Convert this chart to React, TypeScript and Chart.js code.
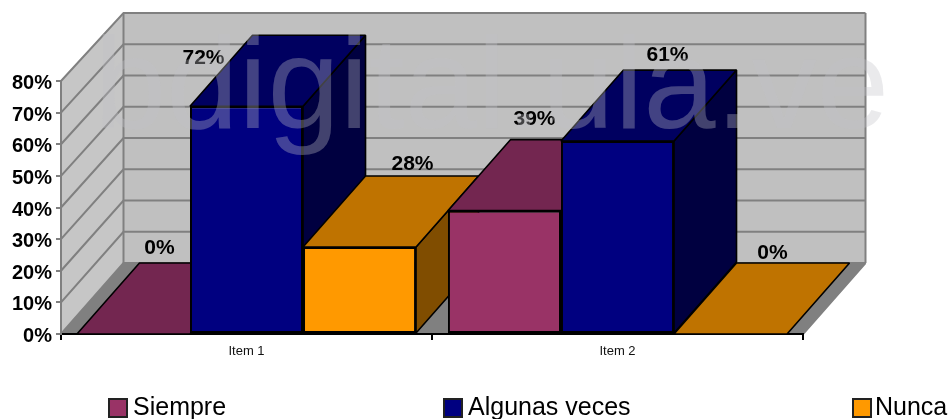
import React, { useEffect, useRef } from "react";
import { Chart, registerables } from "chart.js";

Chart.register(...registerables);

const categories = ["Item 1", "Item 2"];
const siempre = [0, 39];
const algunasVeces = [72, 61];
const nunca = [27.5, 0];
const seriesNames = ["Siempre", "Algunas veces", "Nunca"];
const frontColors = ["#993366", "#000080", "#ff9900"];
const topColors = ["#732650", "#000060", "#bf7300"];
const sideColors = ["#4d1a33", "#000040", "#804d00"];
const watermarkText = "bdigital.ula.ve";

// label nudges relative to the top centre of each bar's front face [series][category]
const labelNudges = [
  [[26, -86], [30, -91]],
  [[-43, -48], [50, -86]],
  [[53, -83], [42, -81]],
];
const legendSlots = [
  { sw: 109, tx: 133 },
  { sw: 444, tx: 468 },
  { sw: 853, tx: 875 },
];

const DX = 62.5;
const DY = 71;
const GRID = "#808080";
const FONT = "'Liberation Sans', Arial, sans-serif";

function poly(ctx: any, pts: number[][], fill: string | null, stroke: string | null, lw = 1.6) {
  ctx.beginPath();
  pts.forEach((p, i) => (i ? ctx.lineTo(p[0], p[1]) : ctx.moveTo(p[0], p[1])));
  ctx.closePath();
  if (fill) {
    ctx.fillStyle = fill;
    ctx.fill();
  }
  if (stroke) {
    ctx.strokeStyle = stroke;
    ctx.lineWidth = lw;
    ctx.lineJoin = "bevel";
    ctx.stroke();
  }
}

const wallsPlugin = {
  id: "walls",
  beforeDraw(chart: any) {
    const { ctx, chartArea: a, scales } = chart;
    // nudge the value-axis labels down to sit where the reference has them
    scales.y.getLabelItems(a).forEach((it: any) => {
      if (!it.options.__moved) {
        it.options.translation = [it.options.translation[0], it.options.translation[1] + 2.5];
        it.options.__moved = true;
      }
    });
    const y0 = a.bottom;
    const backBottom = y0 - DY;
    const backTop = a.top - 68;
    const backY = (y: number) => backBottom - ((y0 - y) * (backBottom - backTop)) / (y0 - a.top);
    const bl = a.left + DX;
    const br = a.right + DX;
    ctx.save();
    poly(ctx, [[a.left, y0], [bl, backBottom], [bl, backTop], [a.left, a.top]], "#c6c6c6", null);
    poly(ctx, [[bl, backBottom], [br, backBottom], [br, backTop], [bl, backTop]], "#c0c0c0", null);
    poly(ctx, [[a.left, y0], [bl, backBottom], [br, backBottom], [a.right, y0]], GRID, null);
    ctx.strokeStyle = GRID;
    ctx.lineWidth = 2;
    scales.y.ticks.forEach((t: any) => {
      const y = scales.y.getPixelForValue(t.value);
      const by = backY(y);
      ctx.beginPath();
      ctx.moveTo(a.left, y);
      ctx.lineTo(bl, by);
      ctx.lineTo(br, by);
      ctx.stroke();
    });
    ctx.beginPath();
    ctx.moveTo(bl, backBottom);
    ctx.lineTo(bl, backTop);
    ctx.moveTo(br, backBottom);
    ctx.lineTo(br, backTop);
    ctx.moveTo(a.right, y0);
    ctx.lineTo(br, backBottom);
    ctx.stroke();
    ctx.restore();
  },
  beforeDatasetsDraw(chart: any) {
    const { ctx } = chart;
    ctx.save();
    categories.forEach((_c, ci) => {
      chart.data.datasets.forEach((_d: any, di: number) => {
        const bar = chart.getDatasetMeta(di).data[ci];
        const l = bar.x - bar.width / 2;
        const r = bar.x + bar.width / 2;
        const t = bar.y;
        const b = bar.base;
        if (b - t > 0.5) {
          poly(ctx, [[r, t], [r + DX, t - DY], [r + DX, b - DY], [r, b]], sideColors[di], "#000");
        }
        poly(ctx, [[l, t], [l + DX, t - DY], [r + DX, t - DY], [r, t]], topColors[di], "#000");
      });
    });
    ctx.restore();
  },
  afterDatasetsDraw(chart: any) {
    const { ctx } = chart;
    ctx.save();
    // value labels
    ctx.fillStyle = "#000";
    ctx.font = `bold 21px ${FONT}`;
    ctx.textAlign = "center";
    ctx.textBaseline = "middle";
    chart.data.datasets.forEach((d: any, di: number) => {
      d.data.forEach((v: number, ci: number) => {
        const bar = chart.getDatasetMeta(di).data[ci];
        const n = labelNudges[di][ci];
        ctx.fillText(`${Math.round(v)}%`, bar.x + n[0], bar.y + n[1]);
      });
    });
    // legend
    ctx.font = `25px ${FONT}`;
    ctx.textAlign = "left";
    ctx.textBaseline = "alphabetic";
    chart.data.datasets.forEach((d: any, di: number) => {
      const s = legendSlots[di];
      ctx.fillStyle = d.backgroundColor;
      ctx.fillRect(s.sw, 399, 18, 18);
      ctx.strokeStyle = "#222";
      ctx.lineWidth = 2;
      ctx.strokeRect(s.sw, 399, 18, 18);
      ctx.fillStyle = "#000";
      ctx.fillText(d.label, s.tx, 415);
    });
    ctx.restore();
  },
  afterDraw(chart: any) {
    const { ctx } = chart;
    ctx.save();
    ctx.fillStyle = "rgba(194,194,200,0.34)";
    ctx.textAlign = "right";
    ctx.textBaseline = "alphabetic";
    ctx.font = `130px ${FONT}`;
    ctx.fillText(watermarkText, 889, 128);
    ctx.restore();
  },
};

export default function App() {
  const ref = useRef<HTMLCanvasElement | null>(null);
  useEffect(() => {
    const chart = new Chart(ref.current as HTMLCanvasElement, {
      type: "bar",
      data: {
        labels: categories,
        datasets: [siempre, algunasVeces, nunca].map((data, i) => ({
          label: seriesNames[i],
          data,
          backgroundColor: frontColors[i],
          borderColor: "#000",
          borderWidth: 2,
          borderSkipped: false,
          categoryPercentage: 0.914,
          barPercentage: 1,
        })),
      },
      options: {
        responsive: false,
        animation: false,
        layout: { padding: { left: 0, right: 145, top: 81, bottom: 0 } },
        plugins: { legend: { display: false }, tooltip: { enabled: false } },
        scales: {
          x: {
            afterFit(s: any) {
              s.height = 85;
            },
            grid: { drawOnChartArea: false, color: "#000", lineWidth: 2, tickLength: 6 },
            border: { color: "#000", width: 2 },
            ticks: { color: "#111", font: { family: FONT, size: 13 }, padding: 4, maxRotation: 0 },
          },
          y: {
            min: 0,
            max: 80,
            afterFit(s: any) {
              s.width = 61;
            },
            grid: { drawOnChartArea: false, color: GRID, lineWidth: 2, tickLength: 5 },
            border: { color: GRID, width: 2 },
            ticks: {
              stepSize: 10,
              color: "#000",
              padding: 4,
              font: { family: FONT, size: 20, weight: "bold" },
              callback: (v: any) => `${v}%`,
            },
          },
        },
      },
      plugins: [wallsPlugin],
    } as any);
    return () => chart.destroy();
  }, []);
  return (
    <div style={{ position: "fixed", left: 0, top: 0, width: 948, height: 419, background: "#fff" }}>
      <canvas ref={ref} width={948} height={419} style={{ display: "block" }} />
    </div>
  );
}
